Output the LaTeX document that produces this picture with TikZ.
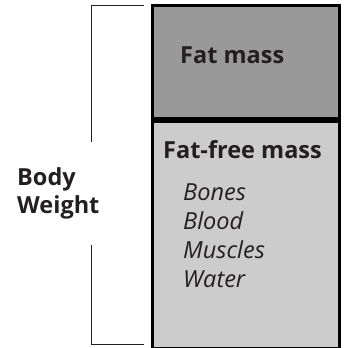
\documentclass[tikz,border=0pt]{standalone}
\usepackage{fontspec}
\setmainfont{Open Sans}
\usetikzlibrary{positioning}
\definecolor{fatgray}{HTML}{999999}
\definecolor{leangray}{HTML}{CCCCCC}
\definecolor{inkdark}{HTML}{231F20}
\tikzset{
  part/.style={draw=black, line width=3pt, inner sep=0pt, minimum width=187.5pt},
  head/.style={anchor=base west, inner sep=0pt, text=inkdark, font=\fontsize{23.5}{28}\selectfont\bfseries},
  item/.style={anchor=base west, inner sep=0pt, text=inkdark, align=left, font=\fontsize{23.5}{29}\selectfont\itshape},
  brace/.style={line width=1pt, inkdark}
}
\begin{document}
\begin{tikzpicture}[x=1pt, y=-1pt]
\useasboundingbox (0,0) rectangle (345,348);
% body composition column
\node[part, fill=fatgray, minimum height=112.5pt] (fat) at (245.75,61.75) {};
\node[part, fill=leangray, minimum height=227.5pt, below=0pt of fat] (lean) {};
\node[head] (fatlabel) at (180,63) {Fat mass};
\node[head] (leanlabel) at (163,158) {Fat-free mass};
\node[item] (parts) at (183,287) {Bones\\Blood\\Muscles\\Water};
% bracket with label
\node[head, align=left] (body) at (17,213) {Body\\Weight};
\coordinate (topend) at (144,5.7);
\coordinate (topbend) at (91,5.7);
\coordinate (topgap) at (91,142);
\coordinate (botgap) at (91,245);
\coordinate (botbend) at (91,344);
\coordinate (botend) at (144,344);
\draw[brace] (topend) -- (topbend) -- (topgap);
\draw[brace] (botgap) -- (botbend) -- (botend);
\end{tikzpicture}
\end{document}
